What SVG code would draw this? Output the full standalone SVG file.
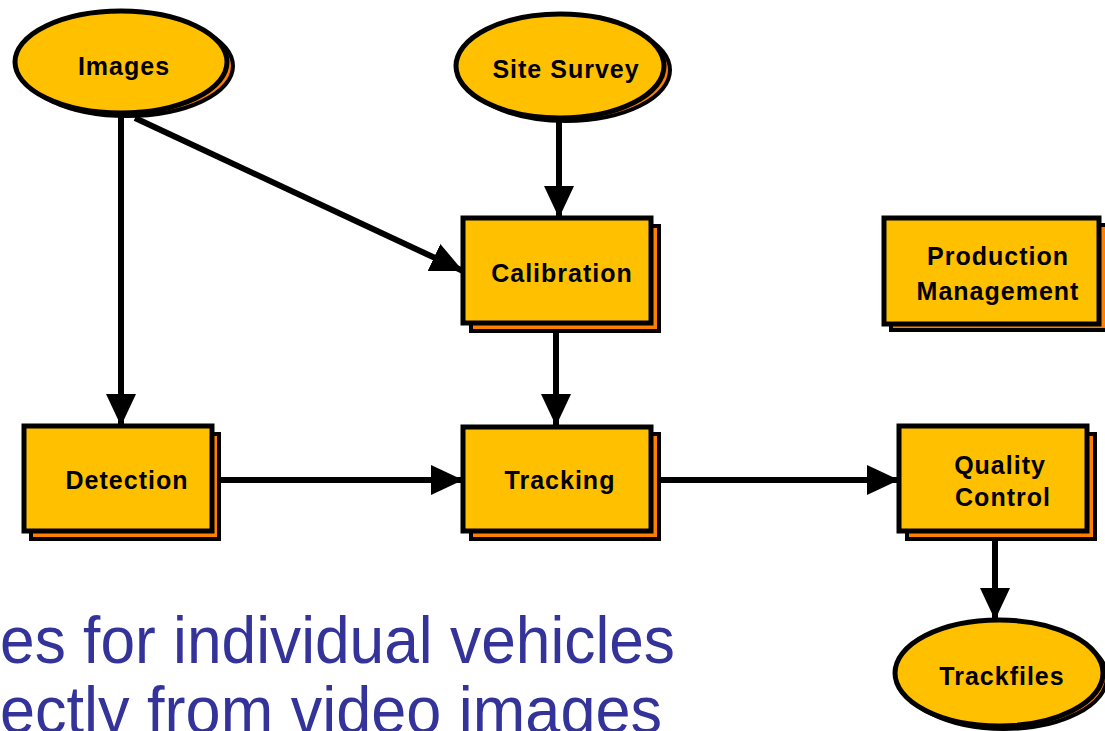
<svg xmlns="http://www.w3.org/2000/svg" width="1105" height="731" viewBox="0 0 1105 731">
<style>
.sh{fill:#FF8000;stroke:#000;stroke-width:4}
.fr{fill:#FFC000;stroke:#000;stroke-width:5}
.lb{font-family:"Liberation Sans",Arial,sans-serif;font-weight:bold;font-size:25px;letter-spacing:1px;fill:#000;text-anchor:middle}
.ln{fill:none;stroke:#000;stroke-width:6}
.cap{font-family:"Liberation Sans",Arial,sans-serif;font-size:66px;fill:#333399}
</style>
<defs>
<marker id="ah" markerUnits="userSpaceOnUse" markerWidth="32" markerHeight="32" viewBox="0 0 32 32" refX="32" refY="16" orient="auto">
<path d="M0,1 L32,16 L0,31 Z" fill="#000"/>
</marker>
</defs>
<rect width="1105" height="731" fill="#fff"/>
<g id="connectors">
<line class="ln" x1="121" y1="114" x2="121" y2="426" marker-end="url(#ah)"/>
<line class="ln" x1="135" y1="118" x2="463" y2="271" marker-end="url(#ah)"/>
<line class="ln" x1="559" y1="120" x2="559" y2="218" marker-end="url(#ah)"/>
<line class="ln" x1="556" y1="324" x2="556" y2="426" marker-end="url(#ah)"/>
<line class="ln" x1="212" y1="480" x2="463" y2="480" marker-end="url(#ah)"/>
<line class="ln" x1="651" y1="480" x2="899" y2="480" marker-end="url(#ah)"/>
<line class="ln" x1="995" y1="531" x2="995" y2="620" marker-end="url(#ah)"/>
</g>
<g id="images">
<ellipse class="sh" cx="127" cy="66" rx="106" ry="50"/>
<ellipse class="fr" cx="121" cy="62" rx="106" ry="51"/>
<text class="lb" x="124" y="75">Images</text>
</g>
<g id="site-survey">
<ellipse class="sh" cx="566" cy="70" rx="104" ry="51"/>
<ellipse class="fr" cx="560" cy="66" rx="104" ry="52"/>
<text class="lb" x="566" y="78">Site Survey</text>
</g>
<g id="calibration">
<rect class="sh" x="471" y="226" width="188" height="105"/>
<rect class="fr" x="463" y="218" width="188" height="105"/>
<text class="lb" x="562" y="282">Calibration</text>
</g>
<g id="production-management">
<rect class="sh" x="891" y="225" width="216" height="105"/>
<rect class="fr" x="884" y="218" width="215" height="106"/>
<text class="lb" x="998" y="265">Production</text>
<text class="lb" x="998" y="300">Management</text>
</g>
<g id="detection">
<rect class="sh" x="31" y="434" width="188" height="105"/>
<rect class="fr" x="24" y="426" width="188" height="105"/>
<text class="lb" x="127" y="489">Detection</text>
</g>
<g id="tracking">
<rect class="sh" x="471" y="434" width="188" height="105"/>
<rect class="fr" x="463" y="427" width="188" height="104"/>
<text class="lb" x="560" y="489">Tracking</text>
</g>
<g id="quality-control">
<rect class="sh" x="907" y="434" width="188" height="105"/>
<rect class="fr" x="899" y="426" width="188" height="105"/>
<text class="lb" x="1000" y="474">Quality</text>
<text class="lb" x="1003" y="506">Control</text>
</g>
<g id="trackfiles">
<ellipse class="sh" cx="1004" cy="677" rx="103" ry="52"/>
<ellipse class="fr" cx="999" cy="673" rx="104" ry="53"/>
<text class="lb" x="1002" y="685">Trackfiles</text>
</g>
<text class="cap" x="0" y="663" textLength="675" lengthAdjust="spacingAndGlyphs">es for individual vehicles</text>
<text class="cap" x="0" y="733" textLength="662" lengthAdjust="spacingAndGlyphs">ectly from video images</text>
</svg>
